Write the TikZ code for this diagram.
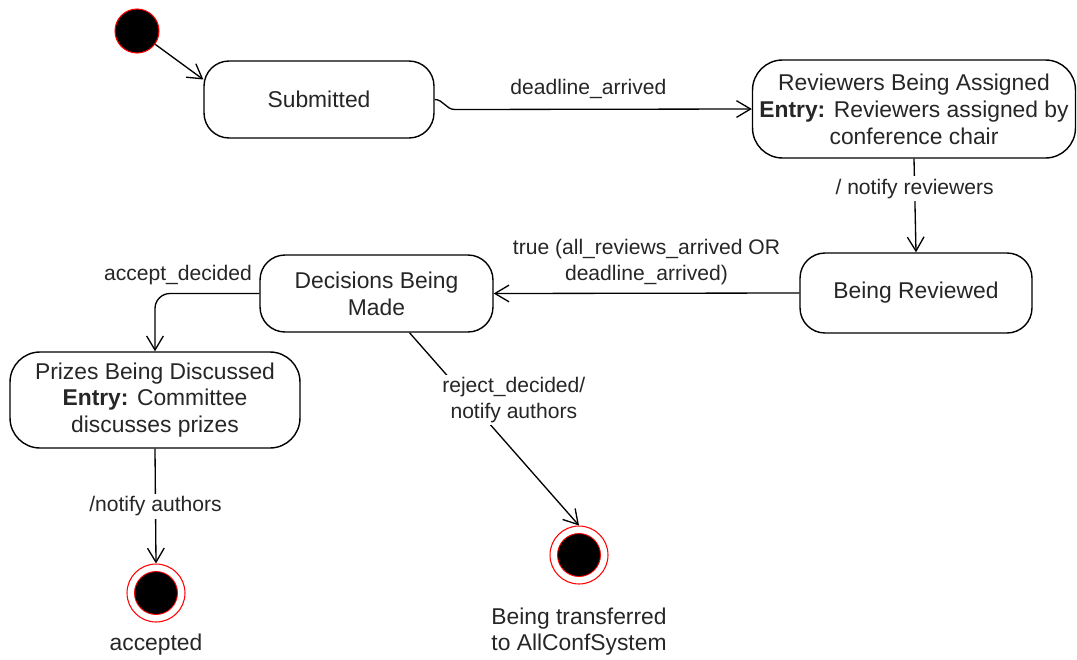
\documentclass[tikz,border=0pt]{standalone}
\usepackage{fontspec}
\setmainfont{Liberation Sans}
\usetikzlibrary{arrows.meta}
\tikzset{
  state/.style={thick, shape=rectangle, rounded corners=0.5cm, draw=black, fill=white, align=center, inner sep=2pt, text=black!85, font=\fontsize{13}{15.3}\selectfont},
  startstate/.style={shape=circle, draw=red, line width=0.6pt, fill=black, minimum size=0.88cm, inner sep=0pt},
  endstate/.style={shape=circle, draw=red, line width=0.6pt, fill=white, minimum size=1.16cm, inner sep=0pt},
  endcore/.style={shape=circle, draw=red, line width=0.5pt, fill=black, minimum size=0.86cm, inner sep=0pt},
  elabel/.style={fill=white, align=center, inner sep=1.5pt, text=black!85, font=\fontsize{12}{14.6}\selectfont},
  slabel/.style={align=center, text=black!85, font=\fontsize{13}{15}\selectfont},
  trans/.style={line width=0.75pt, -{Straight Barb[length=8pt,width=9.5pt,line width=0.75pt]}}
}
\begin{document}
\begin{tikzpicture}[x=0.02cm, y=-0.02cm]
\useasboundingbox (0,0) rectangle (1077,659);
\node[startstate] (init) at (137,31) {};
\node[state, minimum width=4.6cm, minimum height=1.54cm] (sub) at (319,99.5) {Submitted};
\node[state, minimum width=6.46cm, minimum height=1.96cm, rounded corners=0.6cm] (rba) at (914,109) {Reviewers Being Assigned\\\textbf{Entry:} Reviewers assigned by\\conference chair};
\node[state, minimum width=4.64cm, minimum height=1.6cm] (br) at (916,293) {Being Reviewed};
\node[state, minimum width=4.66cm, minimum height=1.54cm] (dbm) at (376.5,293.5) {Decisions Being\\Made};
\node[state, minimum width=5.8cm, minimum height=1.92cm, rounded corners=0.6cm] (pbd) at (155,400) {Prizes Being Discussed\\\textbf{Entry:} Committee\\discusses prizes};
\node[endstate, label={[endcore]center:}, label={[slabel, label distance=0.1cm]below:accepted}] (acc) at (156,593) {};
\node[endstate, label={[endcore]center:}, label={[slabel, label distance=0.34cm]below:Being transferred\\to AllConfSystem}] (rej) at (579,555) {};

\draw[trans] (init) -- ([yshift=0.4cm]sub.west);
\draw[trans] (sub.east) to[out=0, in=180] ++(20,10) -- node[elabel, pos=0.45, above=4pt, fill=none] {deadline\_arrived} (rba.west);
\draw[trans] (rba.south) -- node[elabel, pos=0.32] {/ notify reviewers} (br.north);
\draw[trans] (br.west) -- node[elabel, midway, above=3pt, fill=none] {true (all\_reviews\_arrived OR\\deadline\_arrived)} (dbm.east);
\draw[trans, rounded corners=0.3cm] (dbm.west) -| node[elabel, pos=0.39, above=3pt, fill=none] {accept\_decided} (pbd.north);
\draw[trans] (pbd.south) -- node[elabel, midway] {/notify authors} (acc.north);
\draw[trans] ([xshift=0.66cm]dbm.south) -- node[elabel, pos=0.35, xshift=0.9cm] {reject\_decided/\\notify authors} (rej.north);
\end{tikzpicture}
\end{document}
